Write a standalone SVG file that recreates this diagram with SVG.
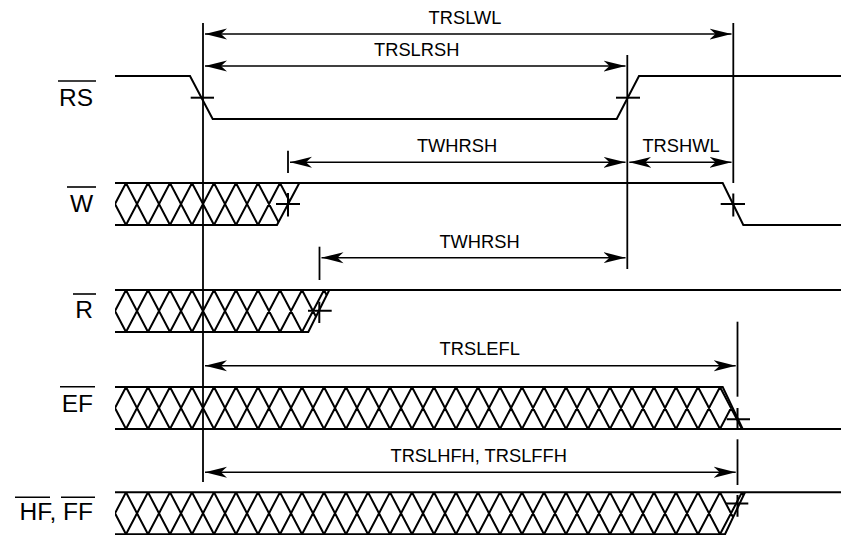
<svg xmlns="http://www.w3.org/2000/svg" xmlns:xlink="http://www.w3.org/1999/xlink" width="841" height="535" viewBox="0 0 841 535">
<style>
.sig{fill:none;stroke:#000;stroke-width:2;stroke-linejoin:miter}
.hatch{fill:none;stroke:#000;stroke-width:2}
.ref{fill:none;stroke:#000;stroke-width:1.8}
.dim{fill:none;stroke:#000;stroke-width:1.6}
.ol{fill:none;stroke:#000;stroke-width:1.6}
.lbl{font-family:"Liberation Sans",Arial,sans-serif;font-size:24.5px;fill:#000;text-anchor:end}
.tl{font-family:"Liberation Sans",Arial,sans-serif;font-size:18.3px;fill:#000;text-anchor:middle}
</style>
<defs>
<marker id="arr" viewBox="0 -6 22 12" refX="22" refY="0" markerWidth="22" markerHeight="12" markerUnits="userSpaceOnUse" orient="auto-start-reverse">
<path d="M22,0 L0,-5.5 L6,0 L0,5.5 Z" fill="#000"/>
</marker>
<path id="zz" d="M115,21 l11,-21 l22,42 l22,-42 l22,42 l22,-42 l22,42 l22,-42 l22,42 l22,-42 l22,42 l22,-42 l22,42 l22,-42 l22,42 l22,-42 l22,42 l22,-42 l22,42 l22,-42 l22,42 l22,-42 l22,42 l22,-42 l22,42 l22,-42 l22,42 l22,-42 l22,42 l22,-42 l22,42 M115,21 l11,21 l22,-42 l22,42 l22,-42 l22,42 l22,-42 l22,42 l22,-42 l22,42 l22,-42 l22,42 l22,-42 l22,42 l22,-42 l22,42 l22,-42 l22,42 l22,-42 l22,42 l22,-42 l22,42 l22,-42 l22,42 l22,-42 l22,42 l22,-42 l22,42 l22,-42 l22,42 l22,-42 l22,42 l22,-42"/>
<clipPath id="cW"><path d="M115,183 H299.3 L277,225 H115 Z"/></clipPath>
<clipPath id="cR"><path d="M115,290 H329.3 L308.3,332 H115 Z"/></clipPath>
<clipPath id="cEF"><path d="M115,387 H722.7 L742.7,429 H115 Z"/></clipPath>
<clipPath id="cHF"><path d="M115,492.3 H745 L725,534.3 H115 Z"/></clipPath>
</defs>
<rect width="841" height="535" fill="#fff"/>

<g id="sig-RS">
<text class="lbl" x="93" y="105.5">RS</text>
<line class="ol" x1="58" y1="81" x2="96" y2="81"/>
<path class="sig" d="M115,76 H190 L212.7,119 H616.7 L639,76 H841"/>
<line class="sig" x1="190.7" y1="97.7" x2="214" y2="97.7"/>
<line class="sig" x1="616" y1="97.7" x2="640" y2="97.7"/>
</g>

<g id="sig-W">
<text class="lbl" x="93" y="212">W</text>
<line class="ol" x1="67" y1="187" x2="96" y2="187"/>
<g clip-path="url(#cW)"><use xlink:href="#zz" href="#zz" y="183" class="hatch"/></g>
<path class="sig" d="M115,183 H722.7 L743.3,225 H841"/>
<path class="sig" d="M115,225 H277 L299.3,183"/>
<path class="sig" d="M276,204 H300 M288,193 V216.5"/>
<path class="sig" d="M720.7,204 H745 M733.3,193.5 V216.5"/>
</g>

<g id="sig-R">
<text class="lbl" x="93" y="318.3">R</text>
<line class="ol" x1="73" y1="294" x2="96" y2="294"/>
<g clip-path="url(#cR)"><use xlink:href="#zz" href="#zz" y="290" class="hatch"/></g>
<path class="sig" d="M115,290 H841"/>
<path class="sig" d="M115,332 H308.3 L329.3,290"/>
<path class="sig" d="M308,310.7 H331.7 M319.3,301.7 V323"/>
</g>

<g id="sig-EF">
<text class="lbl" x="93" y="411.7">EF</text>
<line class="ol" x1="60" y1="386.7" x2="95" y2="386.7"/>
<g clip-path="url(#cEF)"><use xlink:href="#zz" href="#zz" y="387" class="hatch"/></g>
<path class="sig" d="M115,387 H722.7 L742.7,429"/>
<path class="sig" d="M115,429 H841"/>
<path class="sig" d="M726.7,419.3 H750 M737.5,408 V428.5"/>
</g>

<g id="sig-HFFF">
<text class="lbl" x="93" y="520">HF, FF</text>
<line class="ol" x1="15" y1="497.3" x2="50" y2="497.3"/>
<line class="ol" x1="61" y1="497.3" x2="95" y2="497.3"/>
<g clip-path="url(#cHF)"><use xlink:href="#zz" href="#zz" y="492.3" class="hatch"/></g>
<path class="sig" d="M115,492.3 H841"/>
<path class="sig" d="M115,534.3 H725 L745,492.3"/>
<path class="sig" d="M726,503.5 H748.3 M737.5,495 V516.7"/>
</g>

<g id="connectors">
<line class="ref" x1="203" y1="23" x2="203" y2="482"/>
<line class="ref" x1="627.3" y1="55" x2="627.3" y2="269"/>
<line class="ref" x1="733.3" y1="23" x2="733.3" y2="183"/>
<line class="ref" x1="737.5" y1="321.7" x2="737.5" y2="396.7"/>
<line class="ref" x1="737.5" y1="439.3" x2="737.5" y2="485"/>
<line class="ref" x1="288" y1="150.7" x2="288" y2="173"/>
<line class="ref" x1="319.5" y1="246.7" x2="319.5" y2="280"/>

<g id="dim-TRSLWL">
<line class="dim" x1="205" y1="34" x2="731.5" y2="34" marker-start="url(#arr)" marker-end="url(#arr)"/>
<text class="tl" x="465" y="24">TRSLWL</text>
</g>
<g id="dim-TRSLRSH">
<line class="dim" x1="205" y1="66" x2="625.5" y2="66" marker-start="url(#arr)" marker-end="url(#arr)"/>
<text class="tl" x="416.7" y="55.7">TRSLRSH</text>
</g>
<g id="dim-TWHRSH1">
<line class="dim" x1="290" y1="162.3" x2="625.5" y2="162.3" marker-start="url(#arr)" marker-end="url(#arr)"/>
<text class="tl" x="457" y="151.7">TWHRSH</text>
</g>
<g id="dim-TRSHWL">
<line class="dim" x1="629.3" y1="162.3" x2="731.5" y2="162.3" marker-start="url(#arr)" marker-end="url(#arr)"/>
<text class="tl" x="681" y="151.7">TRSHWL</text>
</g>
<g id="dim-TWHRSH2">
<line class="dim" x1="321.5" y1="257.7" x2="625.5" y2="257.7" marker-start="url(#arr)" marker-end="url(#arr)"/>
<text class="tl" x="479.5" y="248.3">TWHRSH</text>
</g>
<g id="dim-TRSLEFL">
<line class="dim" x1="205" y1="365.7" x2="735.7" y2="365.7" marker-start="url(#arr)" marker-end="url(#arr)"/>
<text class="tl" x="479.7" y="355">TRSLEFL</text>
</g>
<g id="dim-TRSLHFH">
<line class="dim" x1="205" y1="472.3" x2="735.7" y2="472.3" marker-start="url(#arr)" marker-end="url(#arr)"/>
<text class="tl" x="478.7" y="461.7">TRSLHFH, TRSLFFH</text>
</g>
</g>
</svg>
